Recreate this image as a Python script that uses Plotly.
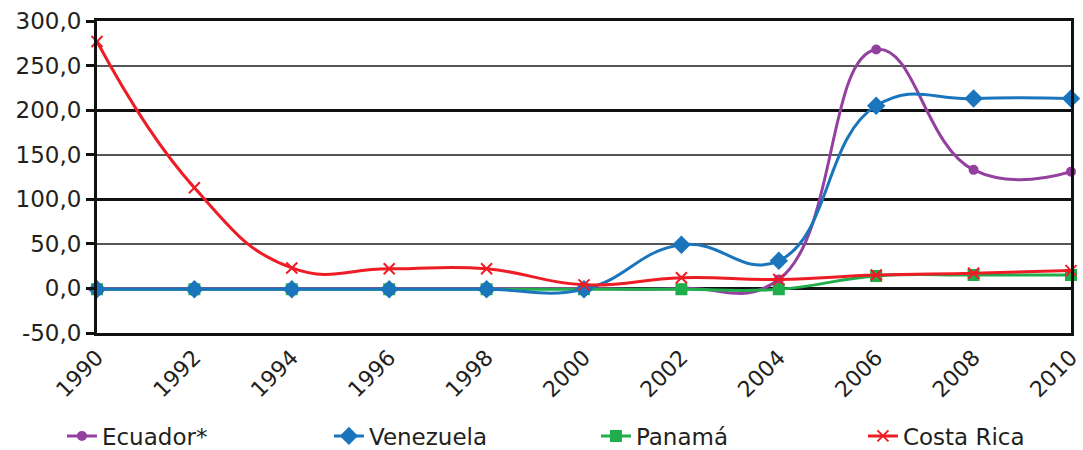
import plotly.graph_objects as go

years = [1990, 1992, 1994, 1996, 1998, 2000, 2002, 2004, 2006, 2008, 2010]
ecuador = [0, 0, 0, 0, 0, 0, 0, 10, 268, 133, 131]
venezuela = [-1, -1, -1, -1, -1, -1, 49, 31, 205, 213, 213]
panama = [-1, -1, -1, -1, -1, -1, -1, -1, 14, 15, 15]
costa_rica = [277, 113, 23, 22, 22, 4, 12, 10, 15, 17, 20]

y_ticks = [-50, 0, 50, 100, 150, 200, 250, 300]
y_labels = ["-50,0", "0,0", "50,0", "100,0", "150,0", "200,0", "250,0", "300,0"]

FONT = "DejaVu Sans"
TEXT = "#231f20"

series = [
    ("Ecuador*", ecuador, "#93409f", "circle", 8, 1),
    ("Panamá", panama, "#1fae4b", "square", 10, 3),
    ("Venezuela", venezuela, "#1b75bc", "diamond", 12, 2),
    ("Costa Rica", costa_rica, "#ee1c25", "x-thin", 11, 4),
]

fig = go.Figure()
for name, vals, color, symbol, size, rank in series:
    fig.add_trace(go.Scatter(
        x=years, y=vals, name=name, mode="lines+markers",
        line=dict(color=color, width=3, shape="spline", smoothing=1.3),
        marker=dict(symbol=symbol, size=size, color=color,
                    line=dict(color=color, width=2)),
        legendrank=rank, cliponaxis=False,
    ))

# invisible trace carrying the heavier gridlines every 100
fig.add_trace(go.Scatter(x=[years[0]], y=[0], yaxis="y2", showlegend=False,
                         mode="markers", marker=dict(opacity=0), hoverinfo="skip"))

fig.update_layout(
    width=1083, height=450,
    margin=dict(l=97, r=12, t=21, b=117, autoexpand=False),
    paper_bgcolor="white", plot_bgcolor="white",
    font=dict(family=FONT, size=22, color=TEXT),
    xaxis=dict(
        range=[1990, 2010], tickvals=years, ticktext=[str(y) for y in years],
        tickangle=-45, showgrid=False, zeroline=False, automargin=False,
        showline=True, linecolor="#111", linewidth=3, mirror=True,
        ticks="", tickfont=dict(size=22, family=FONT, color=TEXT),
    ),
    yaxis=dict(
        range=[-50, 300], tickvals=y_ticks, ticktext=y_labels,
        showgrid=True, gridcolor="#555", gridwidth=1.5, zeroline=False,
        automargin=False,
        showline=True, linecolor="#111", linewidth=3, mirror=True,
        ticks="outside", ticklen=8, tickwidth=3, tickcolor="#111",
        tickfont=dict(size=23, family=FONT, color=TEXT),
    ),
    yaxis2=dict(
        range=[-50, 300], overlaying="y", side="left", automargin=False,
        tickvals=[0, 100, 200, 300], showticklabels=False,
        showgrid=True, gridcolor="#111", gridwidth=2.5, zeroline=False,
        showline=False, ticks="",
    ),
    legend=dict(
        orientation="h", x=-0.036, xanchor="left", y=-0.33, yanchor="middle",
        entrywidth=222, entrywidthmode="pixels", traceorder="normal",
        font=dict(size=23, family=FONT, color=TEXT), bgcolor="rgba(0,0,0,0)",
    ),
    showlegend=True,
)

fig.write_html("out.html")
